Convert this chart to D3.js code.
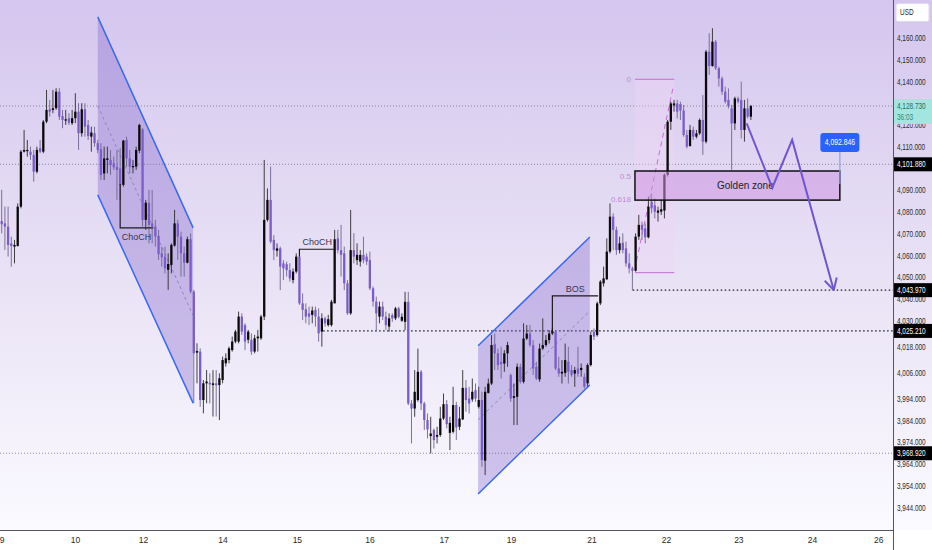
<!DOCTYPE html>
<html>
<head>
<meta charset="utf-8">
<script src="https://cdn.jsdelivr.net/npm/d3@7"></script>
<style>
  body { margin: 0; background: #fff; }
  svg text { font-family: "Liberation Sans", Arial, sans-serif; }
</style>
</head>
<body>
<svg id="chart" width="932" height="550"></svg>
<script>

// 1h candles (index 0 = first candle on the left)
var candleOpen = [
  4075.8, 4074.7, 4073.2, 4065.5, 4064.0, 4064.3, 4082.4, 4107.7, 4107.9, 4107.7,
  4106.2, 4098.5, 4109.3, 4107.7, 4121.5, 4127.2, 4126.9, 4127.7, 4135.3, 4124.1,
  4122.0, 4123.1, 4120.8, 4123.1, 4126.1, 4116.2, 4127.2, 4120.0, 4114.6, 4116.2,
  4111.6, 4108.8, 4097.7, 4103.9, 4103.9, 4102.3, 4100.8, 4100.0, 4092.4, 4113.1,
  4104.6, 4100.5, 4100.8, 4108.2, 4118.0, 4076.3, 4084.2, 4074.7, 4073.2, 4068.9,
  4060.9, 4059.4, 4053.3, 4055.6, 4064.5, 4074.7, 4068.6, 4060.9, 4056.6, 4067.4,
  4043.3, 4015.2, 4015.7, 3993.4, 4001.1, 4001.4, 4000.3, 4001.1, 4000.3, 4002.6,
  4010.3, 4011.8, 4016.4, 4020.3, 4020.3, 4031.8, 4027.9, 4021.1, 4021.1, 4015.7,
  4021.8, 4021.8, 4031.8, 4076.3, 4085.5, 4067.1, 4062.1, 4063.2, 4056.3, 4055.9,
  4053.2, 4048.6, 4052.5, 4059.4, 4037.9, 4035.2, 4033.3, 4032.6, 4034.9, 4031.8,
  4024.9, 4031.0, 4027.9, 4027.9, 4037.9, 4067.8, 4062.4, 4060.9, 4047.1, 4033.3,
  4062.4, 4057.8, 4057.1, 4060.2, 4059.4, 4057.8, 4044.8, 4038.7, 4031.8, 4036.4,
  4031.8, 4027.2, 4032.5, 4031.0, 4035.6, 4029.9, 4029.4, 4038.6, 3991.8, 3989.5,
  3993.4, 4006.4, 3991.8, 3984.2, 3976.8, 3979.6, 3976.5, 3977.3, 3984.9, 3991.5,
  3978.3, 3978.8, 3991.1, 3981.1, 3984.5, 3999.0, 3994.1, 3993.7, 3998.0, 3990.3,
  3993.4, 3965.5, 3996.7, 4001.0, 4019.1, 4014.9, 4011.0, 4010.2, 4014.9, 4004.9,
  3994.4, 3994.9, 4008.7, 4001.8, 4021.7, 4024.0, 4018.7, 4008.7, 4002.9, 4017.1,
  4018.7, 4021.0, 4024.0, 4024.8, 4007.9, 4005.6, 4005.9, 4011.0, 4007.2, 4005.6,
  4007.9, 4007.2, 4004.1, 4001.1, 4009.5, 4024.9, 4023.3, 4037.9, 4047.1, 4049.0,
  4061.7, 4077.8, 4071.7, 4062.4, 4065.8, 4063.2, 4056.3, 4054.0, 4052.9, 4068.6,
  4074.0, 4072.4, 4068.3, 4084.7, 4083.0, 4079.6, 4080.1, 4080.6, 4097.0, 4121.5,
  4129.0, 4129.9, 4129.6, 4126.6, 4115.4, 4110.3, 4117.7, 4114.6, 4116.1, 4122.3,
  4112.3, 4153.7, 4147.1, 4158.3, 4146.1, 4141.4, 4135.3, 4131.5, 4127.6, 4120.7,
  4132.2, 4131.5, 4117.7, 4127.6, 4123.8
];
var candleHigh = [
  4090.1, 4082.4, 4082.4, 4068.6, 4067.1, 4083.9, 4108.5, 4117.7, 4113.1, 4110.0,
  4108.5, 4110.0, 4113.1, 4122.3, 4136.1, 4131.5, 4136.1, 4136.9, 4136.9, 4126.9,
  4126.9, 4125.4, 4126.9, 4134.6, 4130.0, 4130.0, 4130.0, 4122.3, 4119.2, 4119.2,
  4113.1, 4111.6, 4110.0, 4110.0, 4108.5, 4105.4, 4108.5, 4109.3, 4113.1, 4114.6,
  4108.5, 4103.9, 4110.0, 4120.5, 4118.5, 4085.5, 4090.1, 4090.1, 4076.3, 4071.7,
  4064.0, 4064.0, 4060.9, 4065.5, 4080.9, 4076.3, 4070.9, 4064.0, 4068.6, 4070.1,
  4044.1, 4019.5, 4017.2, 4002.6, 4007.2, 4005.7, 4007.2, 4007.2, 4005.7, 4013.4,
  4014.9, 4018.0, 4022.6, 4025.7, 4034.1, 4033.3, 4028.7, 4025.7, 4024.1, 4023.4,
  4025.7, 4032.6, 4103.9, 4090.8, 4100.8, 4069.3, 4065.5, 4064.0, 4057.8, 4057.1,
  4056.3, 4054.0, 4060.9, 4060.2, 4042.5, 4037.9, 4036.4, 4036.4, 4036.4, 4035.6,
  4033.3, 4031.8, 4032.6, 4039.5, 4071.7, 4071.7, 4074.0, 4064.0, 4048.6, 4080.9,
  4070.2, 4065.5, 4062.4, 4068.6, 4060.9, 4061.7, 4045.6, 4041.0, 4038.7, 4038.7,
  4034.1, 4033.3, 4033.3, 4036.3, 4036.3, 4033.3, 4043.2, 4043.2, 3993.4, 4007.2,
  4017.1, 4007.2, 3992.6, 3987.2, 3985.7, 3980.3, 3981.1, 3990.3, 3996.4, 3993.4,
  3985.7, 3999.5, 3992.6, 3990.3, 4007.2, 4002.6, 3999.5, 4003.3, 4001.0, 3999.5,
  3997.2, 3999.5, 4003.3, 4023.3, 4024.0, 4017.1, 4017.9, 4016.4, 4020.2, 4005.6,
  4001.0, 4010.2, 4010.2, 4028.7, 4027.9, 4027.9, 4021.0, 4011.0, 4019.4, 4031.0,
  4023.3, 4025.6, 4026.3, 4025.6, 4013.3, 4011.8, 4019.4, 4017.9, 4009.5, 4008.7,
  4017.9, 4010.2, 4005.6, 4010.3, 4024.9, 4026.4, 4038.7, 4048.6, 4054.8, 4067.8,
  4083.9, 4079.3, 4073.2, 4068.6, 4070.1, 4066.3, 4060.9, 4054.8, 4070.1, 4078.6,
  4075.5, 4074.7, 4087.0, 4088.5, 4086.2, 4082.4, 4085.5, 4097.7, 4122.3, 4130.7,
  4131.5, 4131.5, 4130.7, 4129.2, 4117.7, 4120.0, 4119.2, 4117.7, 4123.0, 4133.8,
  4154.5, 4162.2, 4164.5, 4159.1, 4146.8, 4142.2, 4137.6, 4136.8, 4129.2, 4133.0,
  4133.0, 4139.9, 4131.5, 4132.2, 4129.2
];
var candleLow = [
  4070.1, 4062.5, 4059.4, 4054.8, 4056.3, 4064.0, 4081.6, 4107.3, 4105.4, 4103.9,
  4093.9, 4097.7, 4107.0, 4107.0, 4120.8, 4123.8, 4125.4, 4126.9, 4122.3, 4118.5,
  4120.0, 4120.0, 4120.0, 4120.8, 4108.5, 4114.6, 4114.6, 4113.1, 4107.7, 4110.0,
  4107.0, 4094.7, 4094.7, 4097.7, 4097.0, 4099.3, 4085.5, 4085.5, 4091.6, 4100.8,
  4097.7, 4097.7, 4099.3, 4107.0, 4073.2, 4071.7, 4065.5, 4065.5, 4064.0, 4057.9,
  4054.8, 4051.7, 4044.1, 4051.7, 4064.0, 4057.9, 4050.2, 4050.2, 4056.3, 4042.5,
  3991.9, 4001.1, 3990.3, 3987.3, 3991.9, 3991.9, 3985.8, 3985.8, 3984.2, 4001.1,
  4008.8, 4010.3, 4015.7, 4019.5, 4019.5, 4023.4, 4016.4, 4019.5, 4014.2, 4014.9,
  4015.7, 4021.1, 4030.2, 4075.5, 4065.5, 4057.8, 4059.4, 4044.0, 4048.6, 4050.2,
  4047.9, 4047.1, 4051.7, 4037.2, 4030.2, 4028.7, 4027.9, 4028.7, 4027.2, 4020.3,
  4018.0, 4027.2, 4027.2, 4027.2, 4037.9, 4060.9, 4050.2, 4044.0, 4032.6, 4032.6,
  4056.3, 4055.6, 4054.8, 4056.3, 4055.6, 4044.0, 4036.4, 4024.9, 4028.7, 4030.2,
  4025.7, 4024.9, 4029.4, 4030.2, 4031.0, 4029.4, 4025.6, 3991.1, 3973.4, 3985.7,
  3992.6, 3988.8, 3979.6, 3975.7, 3968.8, 3971.1, 3973.4, 3976.5, 3984.2, 3980.3,
  3970.4, 3978.0, 3975.0, 3979.6, 3984.2, 3988.0, 3987.2, 3992.6, 3992.6, 3989.5,
  3962.7, 3958.9, 3996.4, 4000.3, 4007.2, 4007.2, 4003.3, 4006.4, 4008.7, 3992.6,
  3981.9, 3981.9, 4001.0, 4001.0, 4021.0, 4017.9, 4004.9, 4002.6, 4001.8, 4016.4,
  4017.9, 4019.4, 4023.3, 4007.2, 4004.1, 4001.0, 4004.1, 4001.0, 4004.1, 3999.5,
  4004.1, 4004.1, 3998.7, 3999.6, 4008.8, 4021.0, 4022.6, 4037.1, 4045.6, 4048.6,
  4060.9, 4062.4, 4060.2, 4060.9, 4060.9, 4054.8, 4051.7, 4043.97, 4052.5, 4067.1,
  4067.1, 4065.5, 4067.8, 4079.3, 4077.0, 4075.5, 4078.6, 4077.0, 4096.2, 4117.7,
  4126.1, 4123.0, 4122.3, 4114.6, 4109.2, 4110.0, 4113.1, 4113.8, 4115.4, 4106.2,
  4111.5, 4143.0, 4146.8, 4145.3, 4137.6, 4133.8, 4129.9, 4127.6, 4099.3, 4117.7,
  4129.9, 4113.8, 4112.3, 4123.0, 4122.3
];
var candleClose = [
  4074.3, 4073.2, 4064.8, 4064.3, 4064.8, 4082.4, 4107.7, 4108.5, 4108.5, 4106.2,
  4098.5, 4108.5, 4107.7, 4121.5, 4126.9, 4126.1, 4127.7, 4135.3, 4123.8, 4122.3,
  4122.6, 4121.1, 4123.1, 4126.1, 4116.2, 4127.2, 4119.2, 4114.9, 4116.5, 4111.6,
  4108.5, 4097.0, 4104.6, 4104.6, 4101.6, 4100.5, 4099.3, 4092.4, 4112.8, 4104.6,
  4100.8, 4101.1, 4108.5, 4120.0, 4076.3, 4084.2, 4074.0, 4073.2, 4068.6, 4060.5,
  4059.1, 4054.0, 4056.0, 4064.8, 4074.7, 4068.6, 4060.9, 4056.6, 4067.4, 4043.3,
  4014.9, 4016.0, 3993.4, 4001.1, 4001.9, 4000.6, 4001.1, 4000.2, 4003.4, 4011.8,
  4012.6, 4017.2, 4020.3, 4024.9, 4031.8, 4024.9, 4020.3, 4024.9, 4015.7, 4021.8,
  4022.6, 4031.8, 4076.3, 4085.5, 4066.3, 4062.4, 4063.2, 4054.8, 4054.0, 4053.2,
  4049.4, 4052.5, 4059.4, 4037.9, 4034.9, 4031.8, 4031.8, 4034.6, 4031.8, 4024.1,
  4031.0, 4028.7, 4030.6, 4038.7, 4067.4, 4062.4, 4060.2, 4047.1, 4033.3, 4062.4,
  4059.4, 4060.2, 4060.2, 4057.8, 4057.1, 4044.8, 4038.7, 4033.3, 4036.4, 4031.8,
  4027.9, 4031.0, 4031.0, 4035.6, 4031.7, 4031.7, 4038.6, 3991.8, 3989.5, 3997.2,
  4006.4, 3991.8, 3984.2, 3979.9, 3978.0, 3975.0, 3977.3, 3984.9, 3991.5, 3982.3,
  3982.9, 3991.1, 3980.8, 3984.9, 3999.0, 3993.4, 3991.8, 3997.2, 3994.1, 3993.4,
  3965.8, 3997.2, 4001.0, 4018.7, 4014.9, 4009.5, 4009.9, 4014.9, 4018.7, 3994.1,
  3995.2, 4008.7, 4001.8, 4021.7, 4024.0, 4018.7, 4007.9, 4003.3, 4017.1, 4018.7,
  4021.0, 4024.0, 4025.1, 4007.9, 4005.6, 4006.4, 4011.8, 4006.4, 4004.9, 4007.2,
  4005.6, 4008.2, 3999.5, 4009.5, 4023.3, 4022.6, 4037.9, 4047.9, 4049.4, 4061.7,
  4077.8, 4071.7, 4062.4, 4065.5, 4062.4, 4056.3, 4054.0, 4052.9, 4068.6, 4074.0,
  4071.7, 4068.3, 4082.4, 4081.6, 4080.1, 4080.6, 4081.2, 4097.0, 4121.5, 4129.9,
  4129.9, 4126.1, 4126.6, 4115.4, 4110.0, 4117.7, 4114.6, 4116.1, 4122.3, 4112.3,
  4153.7, 4147.1, 4158.3, 4146.1, 4141.4, 4135.3, 4130.7, 4128.7, 4120.7, 4132.2,
  4130.7, 4117.7, 4127.6, 4123.8, 4128.73
];

// day labels on the time axis (candle index they sit under)
var dayTicks = [0, 22.9, 44.1, 69.0, 92.2, 114.9, 138.1, 159.1, 184.2, 207.5, 230.1, 253.1, 273.8];
var dayLabels = ["9", "10", "12", "14", "15", "16", "17", "19", "21", "22", "23", "24", "26"];

// price scale labels
var priceTicks = [4160, 4150, 4140, 4120, 4110, 4090, 4080, 4070, 4060, 4050, 4040,
                  4030, 4018, 4006, 3994, 3984, 3974, 3964, 3954, 3944];

// marked price levels, and the candle they start from (null = whole chart)
var levelPrices = [4128.73, 4101.88, 4043.97, 4025.21, 3968.92];
var levelFrom = [null, null, 197.1, 100.4, null];
var lastPrice = 4128.73;
var countdown = "36:03";
var currency = "USD";

// drawings, as [candle index, price]
var channelDown = [[30.0, 4169.7], [59.8, 4072.6], [59.8, 3992.0], [30.0, 4087.8]];
var channelUp = [[148.8, 4018.4], [183.7, 4068.4], [183.7, 4000.3], [148.8, 3950.2]];
var chochFirst = [[37.0, 4092.8], [37.0, 4072.6], [47.2, 4072.6]];
var chochSecond = [[93.0, 4059.4], [93.0, 4062.8], [104.1, 4062.8]];
var bosBreak = [[172.0, 4024.8], [172.0, 4041.3], [186.3, 4041.3]];
var structureNames = ["ChoCH", "ChoCH", "BOS"];

var fibSpan = [197.8, 210.1];
var fibPrices = [4141.0, 4052.0];      // level 0, level 1
var fibLevels = [0, 0.5, 0.618, 1];
var fibLabels = ["0", "0.5", "0.618", ""];
var fibTrend = [[198.3, 4057.4], [209.7, 4137.2]];

var goldenZone = [[197.8, 4098.8], [261.8, 4085.4]];
var goldenName = "Golden zone";

var projection = [[232.7, 4120.7], [240.7, 4091.1], [246.9, 4113.1], [259.9, 4043.97]];
var targetTag = [261.8, 4092.846];



var svg = d3.select('svg#chart');

var plotRight = 893,
    plotBottom = 530;

var x = d3.scaleLinear().domain([-0.53, 278.4]).range([0, plotRight]);
var y = d3.scaleLinear().domain([3944, 4160]).range([507.4, 38]);

var purple = "#7b5cc8",
    priceFmt = d3.format(",.3f");

function px(p) { return [x(p[0]), y(p[1])]; }

// the price scale uses a condensed face: squeeze the text sideways
function squeeze(sel, k) {
  sel.each(function() {
    var t = d3.select(this),
        x0 = +t.attr("x") || 0;
    t.attr("x", x0 / k).attr("transform", "scale(" + k + ",1)");
  });
}


// Background
var defs = svg.append("defs");
var grad = defs.append("linearGradient")
    .attr("id", "bg")
    .attr("x1", 0).attr("y1", 0).attr("x2", 0).attr("y2", 1);
grad.append("stop").attr("offset", "0%").attr("stop-color", "#d4c6ee");
grad.append("stop").attr("offset", "50%").attr("stop-color", "#e8e1f5");
grad.append("stop").attr("offset", "100%").attr("stop-color", "#fbfaff");

svg.append("rect").attr("width", 932).attr("height", 550).attr("fill", "#fff");
svg.append("rect").attr("width", 932).attr("height", plotBottom).attr("fill", "url(#bg)");

var plot = svg.append("g");


// Level lines
levelPrices.forEach(function(p, i) {
  var ray = levelFrom[i] !== null;
  plot.append("line")
      .attr("x1", ray ? x(levelFrom[i]) : 0)
      .attr("x2", plotRight)
      .attr("y1", y(p)).attr("y2", y(p))
      .style("stroke", ray ? "#1a1a1a" : "#8c8799")
      .style("stroke-width", ray ? 1.2 : 1)
      .style("stroke-dasharray", ray ? "1.5,2.5" : "1,2");
});


// Channels
function drawChannel(pts) {
  var p = pts.map(px);
  plot.append("path")
      .attr("d", d3.line()(p) + "Z")
      .style("fill", "rgba(118,88,200,0.32)")
      .style("stroke", "none");
  [[p[0], p[1]], [p[3], p[2]]].forEach(function(seg) {
    plot.append("line")
        .attr("x1", seg[0][0]).attr("y1", seg[0][1])
        .attr("x2", seg[1][0]).attr("y2", seg[1][1])
        .style("stroke", "#3b68ee")
        .style("stroke-width", 1.5);
  });
  // middle line
  plot.append("line")
      .attr("x1", p[0][0]).attr("y1", (p[0][1] + p[3][1]) / 2)
      .attr("x2", p[1][0]).attr("y2", (p[1][1] + p[2][1]) / 2)
      .style("stroke", "#8f86b8")
      .style("stroke-width", 1)
      .style("stroke-dasharray", "3,3");
}
drawChannel(channelDown);
drawChannel(channelUp);


// Fibonacci area
var fibTop = y(fibPrices[0]),
    fibBottom = y(fibPrices[1]);
plot.append("rect")
    .attr("x", x(fibSpan[0]))
    .attr("width", x(fibSpan[1]) - x(fibSpan[0]))
    .attr("y", fibTop)
    .attr("height", fibBottom - fibTop)
    .style("fill", "rgba(240,212,244,0.4)");

fibLevels.forEach(function(lv, i) {
  var ly = y(fibPrices[0] - lv * (fibPrices[0] - fibPrices[1]));
  if (lv === 0 || lv === 1) {
    plot.append("line")
        .attr("x1", x(fibSpan[0])).attr("x2", x(fibSpan[1]))
        .attr("y1", ly).attr("y2", ly)
        .style("stroke", "#c46ccf")
        .style("stroke-width", 1);
  }
  plot.append("text")
      .attr("x", x(fibSpan[0]) - 4)
      .attr("y", ly + 3)
      .style("text-anchor", "end")
      .style("font-size", "8px")
      .style("fill", "#c08ad0")
      .text(fibLabels[i]);
});

plot.append("line")
    .attr("x1", x(fibTrend[0][0])).attr("y1", y(fibTrend[0][1]))
    .attr("x2", x(fibTrend[1][0])).attr("y2", y(fibTrend[1][1]))
    .style("stroke", "#c46ccf")
    .style("stroke-width", 1)
    .style("stroke-dasharray", "5,4");


// Candles
var candles = plot.append("g");
candleOpen.forEach(function(o, i) {
  var c = candleClose[i],
      up = c >= o,
      cx = x(i);
  candles.append("line")
      .attr("x1", cx).attr("x2", cx)
      .attr("y1", y(candleHigh[i])).attr("y2", y(candleLow[i]))
      .style("stroke", up ? "#2b2b2b" : "#6e6590")
      .style("stroke-width", 0.9);
  var top = y(Math.max(o, c)),
      h = Math.max(1, Math.abs(y(o) - y(c)));
  candles.append("rect")
      .attr("x", cx - 1.15).attr("width", 2.3)
      .attr("y", top).attr("height", h)
      .style("fill", up ? "#0a0a0a" : purple);
});


// Golden zone
var gz = goldenZone.map(px);
plot.append("rect")
    .attr("x", gz[0][0]).attr("y", gz[0][1])
    .attr("width", gz[1][0] - gz[0][0])
    .attr("height", gz[1][1] - gz[0][1])
    .style("fill", "rgba(206,150,226,0.55)")
    .style("stroke", "#111")
    .style("stroke-width", 1.5);
plot.append("text")
    .attr("x", (gz[0][0] + gz[1][0]) / 2 + 8)
    .attr("y", (gz[0][1] + gz[1][1]) / 2 + 3.5)
    .style("text-anchor", "middle")
    .style("font-size", "10px")
    .style("fill", "#222")
    .text(goldenName);


// ChoCH / BOS marks
[chochFirst, chochSecond, bosBreak].forEach(function(pts, i) {
  var p = pts.map(px);
  plot.append("path")
      .attr("d", d3.line()(p))
      .style("fill", "none")
      .style("stroke", "#1a1a1a")
      .style("stroke-width", 1.2);
  var below = pts[0][1] > pts[1][1];
  plot.append("text")
      .attr("x", (p[1][0] + p[2][0]) / 2)
      .attr("y", below ? p[1][1] + 12 : p[1][1] - 4)
      .style("text-anchor", "middle")
      .style("font-size", "9px")
      .style("fill", "#3a3450")
      .text(structureNames[i]);
});


// Projected path
var proj = projection.map(px);
plot.append("path")
    .attr("d", d3.line()(proj))
    .style("fill", "none")
    .style("stroke", "#6f55cf")
    .style("stroke-width", 2)
    .style("stroke-linejoin", "miter");
var tip = proj[proj.length - 1],
    prev = proj[proj.length - 2],
    ang = Math.atan2(tip[1] - prev[1], tip[0] - prev[0]);
[-0.5, 0.5].forEach(function(d) {
  plot.append("line")
      .attr("x1", tip[0]).attr("y1", tip[1])
      .attr("x2", tip[0] - 13 * Math.cos(ang + d))
      .attr("y2", tip[1] - 13 * Math.sin(ang + d))
      .style("stroke", "#6f55cf")
      .style("stroke-width", 2);
});


// Price tag
var tagX = x(targetTag[0]),
    tagY = y(targetTag[1]);
plot.append("line")
    .attr("x1", tagX).attr("x2", tagX)
    .attr("y1", tagY - 32).attr("y2", tagY)
    .style("stroke", "#8c9fe6")
    .style("stroke-width", 1.2);
plot.append("rect")
    .attr("x", tagX - 19.5).attr("y", tagY - 51)
    .attr("width", 39).attr("height", 19)
    .attr("rx", 3)
    .style("fill", "#2962ff");
plot.append("text")
    .attr("x", tagX).attr("y", tagY - 38.5)
    .style("text-anchor", "middle")
    .style("font-size", "8.5px")
    .style("fill", "#fff")
    .text(priceFmt(targetTag[1]))
    .call(squeeze, 0.8);


// Add the X Axis
svg.append("rect")
    .attr("y", plotBottom).attr("width", 932).attr("height", 550 - plotBottom)
    .attr("fill", "#fff");
var gx = svg.append("g")
    .attr("transform", "translate(0," + plotBottom + ")")
    .call(d3.axisBottom(x)
      .tickValues(dayTicks)
      .tickSize(0)
      .tickPadding(7)
      .tickFormat(function(d, i) { return dayLabels[i]; }));
gx.select(".domain").remove();
gx.selectAll("text")
    .style("font-family", "'Liberation Sans', Arial, sans-serif")
    .style("font-size", "8.5px")
    .style("fill", "#2a2a2a");
svg.append("line")
    .attr("x1", 0).attr("x2", plotRight)
    .attr("y1", plotBottom + 0.5).attr("y2", plotBottom + 0.5)
    .style("stroke", "#555");


// Add the Y Axis
var gy = svg.append("g")
    .attr("transform", "translate(" + plotRight + ",0)")
    .call(d3.axisRight(y)
      .tickValues(priceTicks)
      .tickSize(0)
      .tickPadding(4)
      .tickFormat(priceFmt));
gy.select(".domain").remove();
gy.selectAll("text")
    .style("font-family", "'Liberation Sans', Arial, sans-serif")
    .style("font-size", "8.5px")
    .style("fill", "#2a2a2a")
    .call(squeeze, 0.76);
svg.append("line")
    .attr("x1", plotRight + 0.5).attr("x2", plotRight + 0.5)
    .attr("y1", 0).attr("y2", 550)
    .style("stroke", "#555");

// level labels on the price scale
levelPrices.forEach(function(p) {
  var ly = y(p),
      isLast = p === lastPrice;
  var g = svg.append("g");
  g.append("rect")
      .attr("x", plotRight + 1).attr("width", 932 - plotRight - 1)
      .attr("y", ly - 7).attr("height", isLast ? 25 : 14)
      .style("fill", isLast ? "#a3e6df" : "#000");
  g.append("text")
      .attr("x", plotRight + 4).attr("y", ly + 3)
      .style("font-size", "8.5px")
      .style("fill", isLast ? "#1d6f69" : "#fff")
      .text(priceFmt(p))
      .call(squeeze, 0.76);
  if (isLast) {
    g.append("text")
        .attr("x", plotRight + 4).attr("y", ly + 14)
        .style("font-size", "8.5px")
        .style("fill", "#2f8a83")
        .text(countdown)
        .call(squeeze, 0.76);
  }
});

// currency box
svg.append("rect")
    .attr("x", plotRight + 3).attr("y", 3.5)
    .attr("width", 33).attr("height", 18)
    .attr("rx", 2)
    .style("fill", "#fff")
    .style("stroke", "#e0dbe8");
svg.append("text")
    .attr("x", plotRight + 7).attr("y", 15.5)
    .style("font-size", "8.5px")
    .style("fill", "#2a2a2a")
    .text(currency)
    .call(squeeze, 0.76);

</script>
</body>
</html>
